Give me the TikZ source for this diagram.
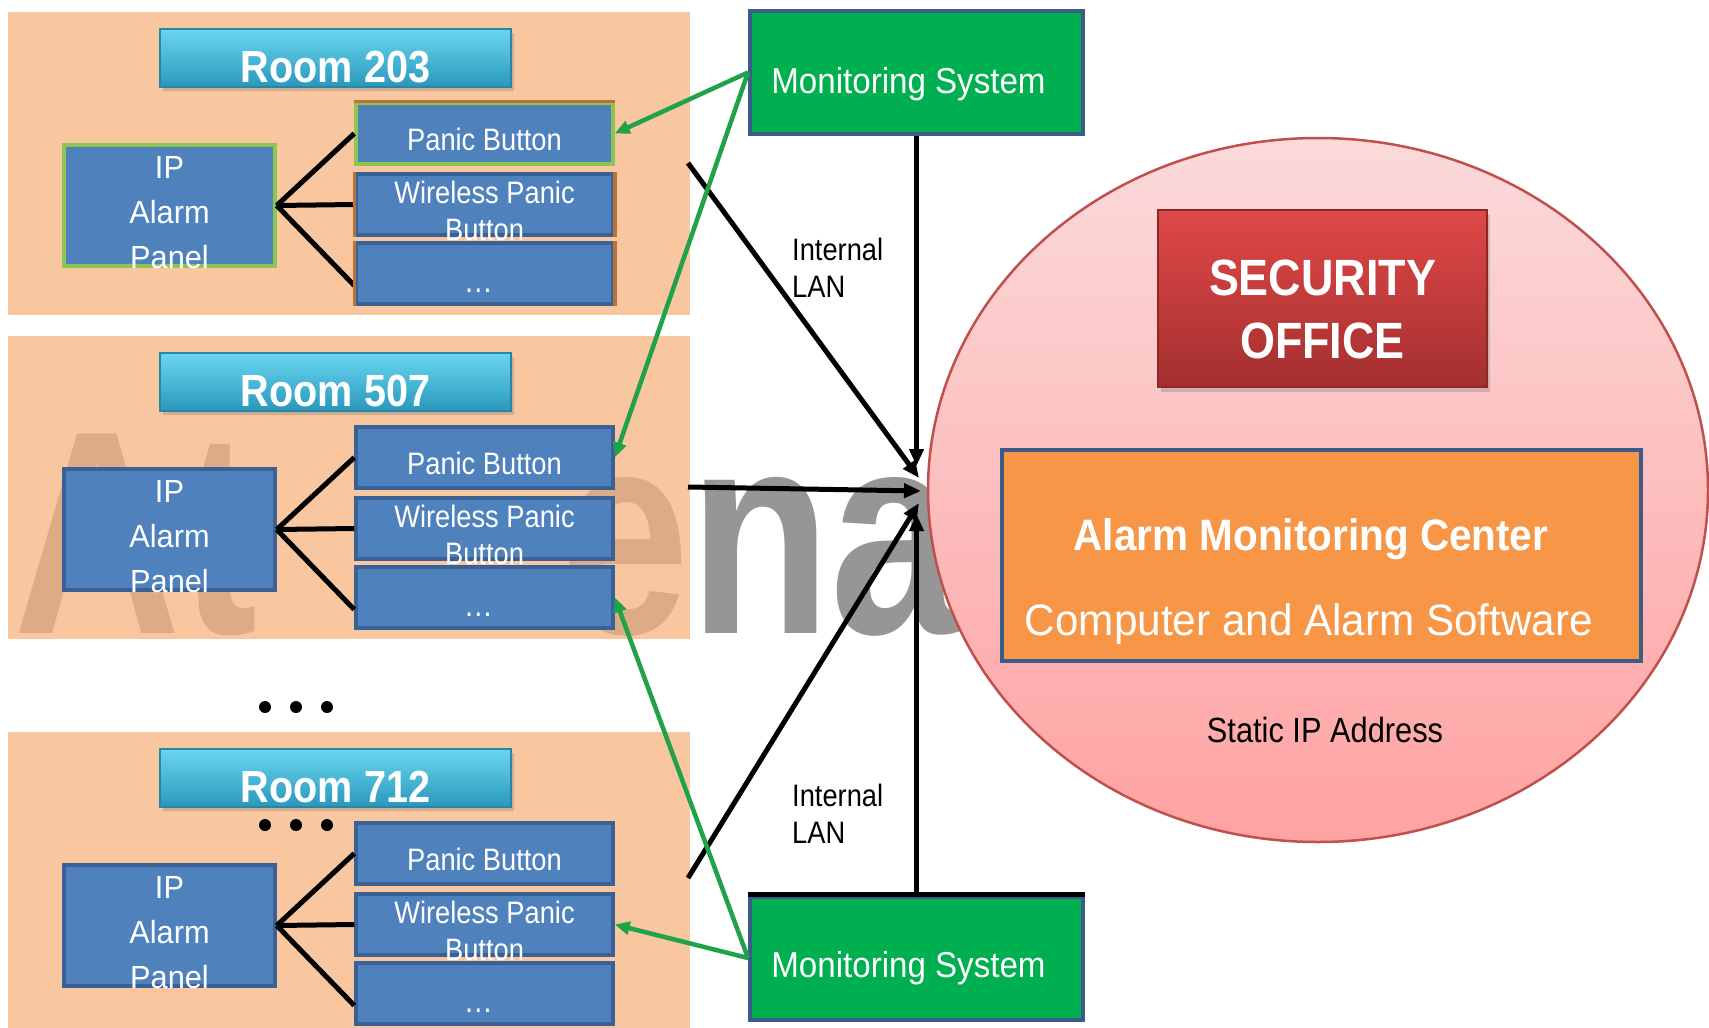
\documentclass[tikz,border=0pt]{standalone}
\usepackage{fontspec}
\setmainfont{Liberation Sans}
\newfontfamily\fnA{Liberation Sans}[FakeStretch=0.88]
\newfontfamily\fnB{Liberation Sans}[FakeStretch=0.96]
\newfontfamily\fnC{Liberation Sans}[FakeStretch=0.92]
\newfontfamily\fnW{Liberation Sans}[FakeStretch=0.8]
\usetikzlibrary{arrows.meta,shadows,shapes.geometric}
\newcommand\dnbox[2]{\raisebox{-#1}[0pt][0pt]{#2}}
\newcommand\fsz[2]{\fontsize{#1}{#2}\selectfont}
\definecolor{peach}{HTML}{F6B380}
\definecolor{bluebox}{HTML}{4F81BD}
\definecolor{blueedge}{HTML}{3A6196}
\definecolor{navyedge}{HTML}{3B5B8A}
\definecolor{msgreen}{HTML}{00B050}
\definecolor{arrgreen}{HTML}{1FA249}
\definecolor{lgreen}{HTML}{8DC550}
\definecolor{brownedge}{HTML}{B8733A}
\definecolor{orangebox}{HTML}{F79646}
\definecolor{ellborder}{HTML}{C0504D}
\definecolor{pinktop}{HTML}{FBDADA}
\definecolor{pinkbot}{HTML}{FFA2A2}
\definecolor{redtop}{HTML}{E04848}
\definecolor{redbot}{HTML}{A42F2F}
\definecolor{rededge}{HTML}{8C2828}
\definecolor{cyantop}{HTML}{6AD6F0}
\definecolor{cyanmid}{HTML}{3AB4D6}
\definecolor{cyanbot}{HTML}{2A98BC}
\definecolor{cyanedge}{HTML}{2A86A3}
\definecolor{wmgray}{HTML}{969696}
\begin{document}
\begin{tikzpicture}[x=1pt,y=-1pt,
  room/.style={fill=peach, fill opacity=0.75, draw=none, minimum width=682pt, minimum height=303pt, inner sep=0pt},
  titlebar/.style={top color=cyantop, middle color=cyanmid, bottom color=cyanbot, draw=cyanedge, line width=1.5pt,
     minimum width=351pt, minimum height=58pt, inner sep=0pt, text=white, font=\fnA\bfseries\fsz{45}{50},
     drop shadow={shadow xshift=3pt, shadow yshift=-4pt, opacity=0.35}},
  ipbox/.style={fill=bluebox, draw=blueedge, line width=3.5pt, minimum width=211pt, minimum height=121pt,
     inner sep=0pt, text=white, font=\fnB\fsz{32}{45}},
  btn/.style={fill=bluebox, draw=blueedge, line width=3.5pt, minimum width=257pt, minimum height=61pt,
     inner sep=0pt, text=white, font=\fnA\fsz{31}{37}},
  ipst1/.style={draw=lgreen}, ipst2/.style={}, ipst3/.style={},
  pbst1/.style={draw=lgreen}, pbst2/.style={}, pbst3/.style={},
  conn/.style={black, line width=5pt},
  msbox/.style={fill=msgreen, draw=navyedge, line width=4pt, minimum width=333pt, minimum height=123pt,
     inner sep=0pt, text=white, font=\fnC\fsz{36}{40}},
  barrow/.style={black, line width=5pt, -{Triangle[length=17pt,width=14pt]}},
  varrow/.style={black, line width=4.5pt, -{Triangle[length=17pt,width=14pt]}},
  garrow/.style={arrgreen, line width=4.5pt, -{Triangle[length=15pt,width=13pt]}},
  lan/.style={anchor=base west, inner sep=0pt, font=\fnA\fsz{31}{37}, text=black},
  wm/.style={anchor=base west, inner sep=0pt, text=wmgray, font=\fnW\bfseries\fsz{290}{300}}
]
\fill[white] (0,0) rectangle (1709,1028);
\useasboundingbox (0,0) rectangle (1709,1028);

% watermark
\node[wm] (wmA) at (13,633) {At};
\node[wm] (wmB) at (560,633) {ena};

% rooms
\foreach \i/\o/\rn in {1/0/203, 2/324/507, 3/720/712}{
  \node[room] (r\i) at (349,163.5+\o) {};
  \node[titlebar] (t\i) at (335.5,58+\o) {\dnbox{24pt}{Room \rn}};
  \node[ipbox, ipst\i] (ip\i) at (169.5,205.5+\o)
     {\dnbox{62.5pt}{\begin{tabular}[b]{@{}c@{}}IP\\Alarm\\Panel\end{tabular}}};
  \node[btn, pbst\i] (pb\i) at (484.5,133.5+\o) {\dnbox{16.5pt}{Panic Button}};
  \node[btn] (wp\i) at (484.5,204.5+\o)
     {\dnbox{35.5pt}{\begin{tabular}[b]{@{}c@{}}Wireless Panic\\Button\end{tabular}}};
  \node[btn, font=\fnA\fsz{33}{37}] (dd\i) at (484.5,273.5+\o) {\dnbox{19pt}{\hspace*{-12pt}…}};
  \draw[conn] (ip\i.east) -- (pb\i.west);
  \draw[conn] (ip\i.east) -- (wp\i.west);
  \draw[conn] (ip\i.east) -- ([yshift=-12pt]dd\i.west);
}
% room 203 edge details
\draw[brownedge, line width=3.5pt] (pb1.north west) -- (pb1.north east);
\draw[brownedge, line width=3.5pt] (wp1.north west) -- (wp1.south west) (wp1.north east) -- (wp1.south east);
\draw[brownedge, line width=3.5pt] (dd1.north west) -- (dd1.south west) (dd1.north east) -- (dd1.south east);

% dots
\foreach \yy in {707,825}{
  \foreach \xx in {265,296,327}{
    \fill[black] (\xx,\yy) circle (6);
  }
}

% security office area
\node[ellipse, top color=pinktop, bottom color=pinkbot, draw=ellborder, line width=2.5pt,
      minimum width=780pt, minimum height=704pt, inner sep=0pt] (office) at (1318,490) {};
\node[top color=redtop, bottom color=redbot, draw=rededge, line width=2pt,
      minimum width=329pt, minimum height=177pt, inner sep=0pt, text=white,
      font=\fnA\bfseries\fsz{51}{63},
      drop shadow={shadow xshift=3pt, shadow yshift=-5pt, opacity=0.35}] (sec) at (1322.5,298.5)
      {\dnbox{59.5pt}{\begin{tabular}[b]{@{}c@{}}SECURITY\\OFFICE\end{tabular}}};
\node[fill=orangebox, draw=navyedge, line width=4pt, minimum width=639pt, minimum height=211pt,
      inner sep=0pt] (amc) at (1321.5,555.5) {};
\node[anchor=base, inner sep=0pt, text=white, font=\fnC\bfseries\fsz{44}{50}] (amcA) at (1311,550)
      {Alarm Monitoring Center};
\node[anchor=base, inner sep=0pt, text=white, font=\fnB\fsz{44}{50}] (amcB) at (1309,635)
      {Computer and Alarm Software};
\node[anchor=base, inner sep=0pt, text=black, font=\fnA\fsz{35}{40}] (sip) at (1325,742)
      {Static IP Address};

% monitoring systems
\node[msbox] (ms1) at (916.5,72.5) {\dnbox{20.5pt}{\hspace*{-16pt}Monitoring System}};
\node[msbox] (ms2) at (916.5,958) {\dnbox{19pt}{\hspace*{-16pt}Monitoring System}};
\draw[black, line width=5pt] (ms2.north west) -- (ms2.north east);

% LAN labels
\node[lan] (lan1) at (792,297) {\begin{tabular}[b]{@{}l@{}}Internal\\LAN\end{tabular}};
\node[lan] (lan2) at (792,843) {\begin{tabular}[b]{@{}l@{}}Internal\\LAN\end{tabular}};

% connectors
\coordinate (a1) at (688,163);
\coordinate (a2) at (688,487);
\coordinate (a3) at (688,878);
\coordinate (e1) at (919,478);
\coordinate (e2) at (921,491);
\coordinate (e3) at (919,503);
\coordinate (vt) at (916.5,466);
\coordinate (vb) at (916.5,514);
\draw[barrow] (a1) -- (e1);
\draw[barrow] (a2) -- (e2);
\draw[barrow] (a3) -- (e3);
\draw[varrow] (ms1.south) -- (vt);
\draw[varrow] (ms2.north) -- (vb);
\draw[garrow] (ms1.west) -- (pb1.east);
\draw[garrow] (ms1.west) -- (pb2.east);
\draw[garrow] (ms2.west) -- (wp3.east);
\draw[garrow] (ms2.west) -- (dd2.east);
\end{tikzpicture}
\end{document}
